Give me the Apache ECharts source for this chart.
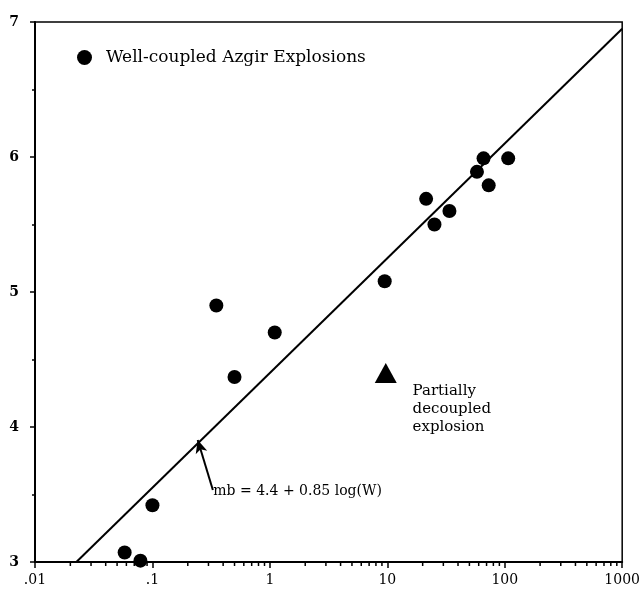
<!DOCTYPE html>
<html><head><meta charset="utf-8">
<script src="https://cdn.jsdelivr.net/npm/echarts@6/dist/echarts.min.js"></script>
<style>html,body{margin:0;padding:0;background:#fff}#c{width:643px;height:600px}</style>
</head><body><div id="c"></div>
<script>
// Well-coupled Azgir explosions: yield W (kt) and body-wave magnitude mb
const coupledYield = [0.35, 1.1, 0.5, 0.1, 0.058, 0.079, 9.5, 21.4, 25.2, 33.8, 58, 66, 73, 107];
const coupledMb    = [4.90, 4.70, 4.37, 3.42, 3.07, 3.01, 5.08, 5.69, 5.50, 5.60, 5.89, 5.99, 5.79, 5.99];
// Partially decoupled explosion
const decoupledYield = [9.7];
const decoupledMb = [4.4];
// Fit line mb = 4.4 + 0.85 log(W), end points as drawn
const fitYield = [0.0225, 1000];
const fitMb = [3.0, 6.95];
// Arrow of the fit annotation (tail -> head)
const arrowYield = [0.327, 0.243];
const arrowMb = [3.533, 3.904];
// Axis ticks
const xTickValues = [0.01, 0.1, 1, 10, 100, 1000];
const xTickLabels = ['.01', '.1', '1', '10', '100', '1000'];
const xMinorTicks = [0.02,0.03,0.04,0.05,0.06,0.07,0.08,0.09,
  0.2,0.3,0.4,0.5,0.6,0.7,0.8,0.9, 2,3,4,5,6,7,8,9,
  20,30,40,50,60,70,80,90, 200,300,400,500,600,700,800,900];
const yTickLabels = ['3', '4', '5', '6', '7'];
const legendLabel = 'Well-coupled Azgir Explosions';
const fitLabel = 'mb = 4.4 + 0.85 log(W)';
const decoupledLabel = 'Partially\ndecoupled\nexplosion';
const fitLabelAt = [0.33, 3.52];
const decoupledLabelAt = [16.4, 4.13];

const FONT = '"DejaVu Serif", "Liberation Serif", serif';
const chart = echarts.init(document.getElementById('c'), null, {renderer: 'canvas'});
const pts = coupledYield.map((w, i) => [w, coupledMb[i]]);
const tri = decoupledYield.map((w, i) => [w, decoupledMb[i]]);
const fit = fitYield.map((w, i) => [w, fitMb[i]]);

chart.setOption({
  animation: false,
  backgroundColor: '#fff',
  grid: {left: 35, right: 20, top: 22, bottom: 38, show: true, borderColor: '#000', borderWidth: 1.5, backgroundColor: 'transparent'},
  legend: {
    data: [{name: legendLabel, icon: 'circle'}],
    left: 72, top: 44, itemWidth: 15, itemHeight: 15, itemGap: 0,
    itemStyle: {color: '#000', opacity: 1},
    textStyle: {fontFamily: FONT, fontSize: 17, color: '#000', padding: [0, 0, 0, 9]}
  },
  xAxis: {
    type: 'log', logBase: 10, min: 0.01, max: 1000,
    axisLine: {show: true, lineStyle: {color: '#000', width: 2}},
    axisTick: {show: true, length: 6, lineStyle: {color: '#000', width: 1.5}},
    splitLine: {show: false},
    axisLabel: {
      margin: 11, color: '#000', fontFamily: FONT, fontSize: 14,
      formatter: v => {
        const i = xTickValues.findIndex(t => Math.abs(Math.log10(t) - Math.log10(v)) < 1e-6);
        return i >= 0 ? xTickLabels[i] : '';
      }
    }
  },
  yAxis: {
    type: 'value', min: 3, max: 7, interval: 1,
    axisLine: {show: true, lineStyle: {color: '#000', width: 2}},
    axisTick: {show: true, length: 5, lineStyle: {color: '#000', width: 1.5}},
    minorTick: {show: true, splitNumber: 2, length: 3, lineStyle: {color: '#000', width: 1.5}},
    splitLine: {show: false},
    axisLabel: {
      margin: 16, color: '#000', fontFamily: FONT, fontSize: 14, fontWeight: 'bold',
      formatter: v => yTickLabels[Math.round(v) - 3] || ''
    }
  },
  series: [
    {
      type: 'line', data: fit, symbol: 'none', silent: true, z: 3,
      lineStyle: {color: '#000', width: 2},
      markLine: {
        silent: true, symbol: ['none', 'arrow'], symbolSize: [9, 13],
        label: {show: false},
        lineStyle: {color: '#000', width: 2, type: 'solid'},
        data: [[{coord: [arrowYield[0], arrowMb[0]]}, {coord: [arrowYield[1], arrowMb[1]]}]]
      }
    },
    {
      name: legendLabel, type: 'scatter', data: pts, symbol: 'circle', symbolSize: 14,
      itemStyle: {color: '#000', opacity: 1}, z: 4
    },
    {
      type: 'scatter', data: tri, symbol: 'triangle', symbolSize: [22, 20],
      itemStyle: {color: '#000', opacity: 1}, z: 4
    },
    {
      type: 'scatter', silent: true, symbolSize: 0,
      itemStyle: {opacity: 1},
      data: [
        {value: fitLabelAt, label: {formatter: fitLabel, fontSize: 14}},
        {value: decoupledLabelAt, label: {formatter: decoupledLabel}}
      ],
      label: {show: true, position: 'right', distance: 0, color: '#000', opacity: 1, fontFamily: FONT, fontSize: 15, lineHeight: 18, align: 'left'}
    },
    {
      type: 'custom', silent: true, clip: false, z: 5,
      data: xMinorTicks.map(v => [v, 3]),
      renderItem: (params, api) => {
        const p = api.coord([api.value(0), api.value(1)]);
        return {type: 'line', shape: {x1: p[0], y1: p[1], x2: p[0], y2: p[1] + 4}, style: {stroke: '#000', lineWidth: 1.5}};
      }
    }
  ]
});
</script></body></html>
